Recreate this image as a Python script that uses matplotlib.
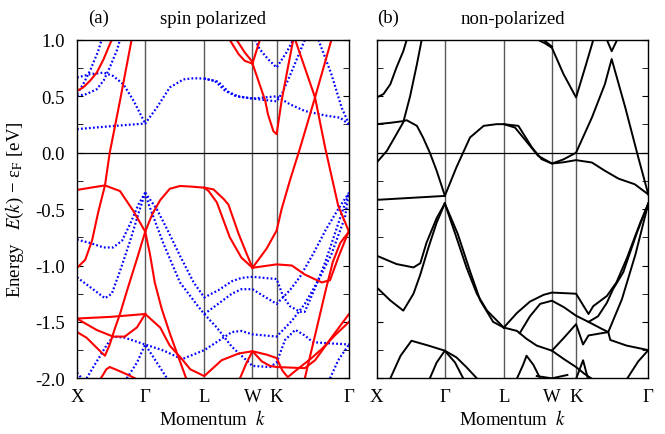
import matplotlib
matplotlib.use("Agg")
import matplotlib.pyplot as plt
from matplotlib.ticker import MultipleLocator
import numpy as np

# k-path X-G-L-W-K-G, distances in units of 2pi/a
kpoint_labels = ["X", "Γ", "L", "W", "K", "Γ"]
kpoint_pos = [0.0, 1.0, 1.866, 2.573, 2.927, 3.988]

# spin-polarized calculation, majority spin: (k, E - E_F)
spin_up = [
    [(0, -1.02), (0.12, -0.95), (0.22, -0.78), (0.31, -0.53), (0.41, -0.29), (0.48, 0.0), (0.63, 0.46), (0.80, 1.0)],
    [(0, -0.33), (0.2, -0.31), (0.41, -0.29), (0.63, -0.34), (0.83, -0.52), (1.0, -0.70)],
    [(0, -1.59), (0.14, -1.64), (0.29, -1.73), (0.41, -1.80), (0.48, -1.70), (0.56, -1.55), (0.63, -1.43),
     (0.75, -1.19), (0.88, -0.94), (1.0, -0.70)],
    [(1.0, -0.70), (1.10, -0.55), (1.22, -0.42), (1.36, -0.32), (1.51, -0.295), (1.66, -0.30), (1.866, -0.31)],
    [(1.866, -0.31), (1.93, -0.34), (2.05, -0.44), (2.24, -0.75), (2.41, -0.93), (2.573, -1.02)],
    [(1.866, -0.31), (2.0, -0.325), (2.15, -0.41), (2.22, -0.46), (2.37, -0.72), (2.49, -0.90), (2.573, -1.02)],
    [(2.573, -1.02), (2.78, -0.85), (2.927, -0.69), (3.00, -0.50), (3.12, -0.25), (3.27, 0.04), (3.49, 0.49), (3.73, 1.0)],
    [(3.20, 1.0), (3.49, 0.49), (3.64, 0.04), (3.83, -0.47), (3.988, -0.70)],
    [(2.573, -1.02), (2.927, -0.99), (3.15, -1.0), (3.34, -1.08), (3.59, -1.15), (3.71, -1.13), (3.83, -0.93), (3.988, -0.69)],
    [(3.34, -2.0), (3.49, -1.62), (3.65, -1.21), (3.75, -0.97), (3.86, -0.80), (3.988, -0.70)],
    [(2.24, 1.0), (2.37, 0.873), (2.46, 0.814), (2.573, 0.79)],
    [(2.34, 1.0), (2.46, 0.888), (2.56, 0.814), (2.573, 0.79)],
    [(2.573, 0.79), (2.66, 0.637), (2.76, 0.46), (2.80, 0.34), (2.88, 0.19), (2.927, 0.164), (3.00, 0.46), (3.10, 0.78), (3.17, 1.0)],
    [(2.573, 0.79), (2.68, 1.0)],
    [(0, 0.548), (0.09, 0.578), (0.19, 0.637), (0.29, 0.71), (0.39, 0.829), (0.48, 0.96), (0.51, 1.0)],
    [(0, -1.47), (0.5, -1.455), (1.0, -1.43)],
    [(0, -1.47), (0.14, -1.52), (0.29, -1.572), (0.53, -1.63), (0.70, -1.63), (0.88, -1.548), (1.0, -1.43)],
    [(1.0, -1.43), (1.22, -1.55), (1.36, -1.71), (1.54, -1.83), (1.66, -1.92), (1.866, -1.98), (2.12, -1.84),
     (2.37, -1.78), (2.573, -1.76), (2.78, -1.79), (2.927, -1.82), (3.01, -1.93), (3.09, -1.99), (3.21, -1.93),
     (3.42, -1.83), (3.59, -1.74), (3.78, -1.62), (3.988, -1.50)],
    [(1.0, -0.70), (1.07, -0.90), (1.14, -1.15), (1.24, -1.38), (1.36, -1.60), (1.48, -1.80), (1.60, -2.0)],
    [(0.35, -2.0), (0.43, -1.92), (0.48, -1.90), (0.60, -1.93), (0.75, -1.97), (0.85, -2.0)],
    [(2.39, -2.0), (2.48, -1.87), (2.573, -1.76), (2.71, -1.85), (2.83, -1.89), (2.927, -1.90), (3.34, -1.91),
     (3.49, -1.84), (3.73, -1.64), (3.988, -1.43)],
]

# minority spin
spin_down = [
    [(0, 0.209), (0.5, 0.235), (1.0, 0.259), (1.17, 0.40), (1.36, 0.578), (1.56, 0.65), (1.71, 0.66), (1.866, 0.657),
     (2.02, 0.637), (2.17, 0.55), (2.32, 0.504), (2.573, 0.48), (2.927, 0.50), (3.12, 0.43), (3.34, 0.37),
     (3.64, 0.33), (3.86, 0.31), (3.988, 0.25)],
    [(1.866, 0.657), (2.07, 0.63), (2.22, 0.54), (2.37, 0.497), (2.573, 0.48), (2.927, 0.455), (3.01, 0.53),
     (3.12, 0.68), (3.23, 0.84), (3.34, 1.0)],
    [(0, 0.666), (0.19, 0.696), (0.39, 0.71), (0.53, 0.68), (0.68, 0.607), (0.83, 0.46), (1.0, 0.259)],
    [(0, 0.504), (0.14, 0.52), (0.29, 0.563), (0.39, 0.64), (0.48, 0.755), (0.58, 0.90), (0.63, 1.0)],
    [(0, 0.52), (0.09, 0.607), (0.19, 0.725), (0.31, 0.90), (0.36, 1.0)],
    [(2.61, 1.0), (2.68, 0.917), (2.80, 0.83), (2.927, 0.755), (3.07, 0.888), (3.17, 1.0)],
    [(3.54, 1.0), (3.73, 0.696), (3.88, 0.40), (3.988, 0.253)],
    [(0, -0.77), (0.19, -0.80), (0.39, -0.84), (0.53, -0.84), (0.66, -0.78), (0.78, -0.63), (0.90, -0.46), (1.0, -0.355)],
    [(0, -1.105), (0.19, -1.19), (0.41, -1.29), (0.51, -1.25), (0.63, -1.05), (0.78, -0.78), (0.90, -0.54), (1.0, -0.355)],
    [(1.0, -0.355), (1.17, -0.50), (1.32, -0.677), (1.51, -0.914), (1.71, -1.15), (1.866, -1.283), (2.07, -1.22),
     (2.27, -1.14), (2.41, -1.11), (2.573, -1.10), (2.927, -1.12), (3.02, -1.27), (3.12, -1.36), (3.27, -1.41),
     (3.34, -1.41), (3.49, -1.20), (3.64, -0.97), (3.78, -0.72), (3.89, -0.52), (3.988, -0.355)],
    [(1.0, -0.355), (1.05, -0.456), (1.27, -0.81), (1.51, -1.15), (1.76, -1.35), (1.866, -1.43), (2.07, -1.34),
     (2.27, -1.25), (2.41, -1.21), (2.573, -1.21), (2.76, -1.28), (2.927, -1.34), (3.12, -1.22), (3.27, -1.10),
     (3.46, -0.90), (3.65, -0.68), (3.83, -0.50), (3.988, -0.355)],
    [(0.14, -2.0), (0.29, -1.85), (0.44, -1.70), (0.53, -1.63), (0.70, -1.64), (1.0, -1.70), (1.27, -1.754),
     (1.54, -1.83), (1.866, -1.75), (2.07, -1.67), (2.27, -1.59), (2.41, -1.58), (2.573, -1.61), (2.927, -1.63),
     (3.15, -1.49), (3.34, -1.34), (3.54, -1.13), (3.73, -0.90), (3.93, -0.57), (3.988, -0.355)],
    [(1.866, -1.43), (2.05, -1.55), (2.27, -1.72), (2.573, -1.89), (2.83, -1.90), (2.927, -1.86), (3.05, -1.66),
     (3.20, -1.57), (3.34, -1.62), (3.46, -1.68), (3.71, -1.69), (3.988, -1.70)],
    [(3.71, -2.0), (3.83, -1.84), (3.988, -1.70)],
    [(0.73, -2.0), (0.88, -1.86), (1.0, -1.70), (1.17, -1.86), (1.32, -2.0)],
    [(0, -1.95), (0.07, -2.0)],
]

# non-polarized calculation
non_polarized = [
    [(0, 0.49), (0.10, 0.52), (0.20, 0.607), (0.29, 0.755), (0.39, 0.90), (0.44, 1.0)],
    [(0, 0.253), (0.20, 0.265), (0.39, 0.28), (0.44, 0.288), (0.59, 0.238), (0.68, 0.135), (0.78, 0.0),
     (0.88, -0.16), (1.0, -0.38)],
    [(0, -0.087), (0.15, 0.017), (0.29, 0.164), (0.39, 0.27), (0.49, 0.50), (0.59, 0.784), (0.66, 1.0)],
    [(0, -0.418), (1.0, -0.383)],
    [(1.0, -0.383), (1.17, -0.13), (1.37, 0.135), (1.57, 0.238), (1.76, 0.253), (1.866, 0.253), (2.03, 0.223),
     (2.23, 0.076), (2.37, -0.028), (2.573, -0.096), (2.74, -0.085), (2.927, -0.066), (3.16, -0.087),
     (3.35, -0.16), (3.55, -0.23), (3.79, -0.28), (3.988, -0.37)],
    [(1.866, 0.253), (2.08, 0.238), (2.28, 0.046), (2.42, -0.057), (2.573, -0.096), (2.74, -0.06), (2.927, 0.0),
     (3.16, 0.312), (3.35, 0.607), (3.45, 0.83), (3.65, 0.40), (3.84, -0.04), (3.988, -0.37)],
    [(3.38, 1.0), (3.45, 0.90), (3.53, 1.0)],
    [(2.37, 1.0), (2.47, 0.97), (2.573, 0.93), (2.74, 0.70), (2.927, 0.49), (3.06, 0.755), (3.18, 1.0)],
    [(2.45, 1.0), (2.573, 0.94)],
    [(0, -0.913), (0.29, -0.987), (0.54, -1.017), (0.64, -0.98), (0.73, -0.80), (0.88, -0.58), (1.0, -0.45)],
    [(0, -1.194), (0.20, -1.31), (0.39, -1.40), (0.54, -1.25), (0.64, -1.08), (0.76, -0.84), (0.88, -0.62), (1.0, -0.45)],
    [(1.0, -0.45), (1.17, -0.75), (1.32, -1.02), (1.47, -1.25), (1.62, -1.40), (1.866, -1.55)],
    [(1.0, -0.45), (1.19, -0.72), (1.37, -1.05), (1.52, -1.31), (1.71, -1.50), (1.866, -1.55)],
    [(1.866, -1.55), (2.06, -1.42), (2.25, -1.32), (2.45, -1.26), (2.573, -1.24), (2.927, -1.25), (3.11, -1.43),
     (3.18, -1.36), (3.38, -1.27), (3.52, -1.15), (3.67, -0.94), (3.87, -0.62), (3.988, -0.45)],
    [(1.866, -1.55), (2.06, -1.58), (2.20, -1.65), (2.35, -1.71), (2.573, -1.755), (2.75, -1.64), (2.927, -1.52),
     (3.03, -1.70), (3.11, -1.62), (3.40, -1.59), (3.43, -1.66), (3.67, -1.71), (3.988, -1.75)],
    [(2.10, -1.60), (2.25, -1.45), (2.40, -1.34), (2.573, -1.312), (2.75, -1.37), (2.927, -1.445), (3.11, -1.50),
     (3.25, -1.45), (3.38, -1.33), (3.47, -1.21), (3.62, -1.06), (3.82, -0.71), (3.988, -0.45)],
    [(3.11, -1.50), (3.30, -1.56), (3.40, -1.59), (3.60, -1.30), (3.80, -0.90), (3.988, -0.45)],
    [(2.573, -1.755), (2.75, -1.83), (2.927, -1.90), (3.05, -1.96), (3.15, -2.0)],
    [(0.20, -2.0), (0.35, -1.80), (0.51, -1.667), (0.76, -1.71), (1.0, -1.755), (1.17, -1.814), (1.32, -1.903), (1.47, -2.0)],
    [(0.78, -2.0), (0.88, -1.86), (1.0, -1.755), (1.15, -1.86), (1.27, -2.0)],
    [(2.06, -2.0), (2.15, -1.88), (2.20, -1.80), (2.30, -1.88), (2.40, -2.0)],
    [(2.35, -1.98), (2.573, -2.0), (2.80, -1.97)],
    [(2.93, -2.0), (3.03, -1.84), (3.10, -2.0)],
    [(3.68, -2.0), (3.84, -1.85), (3.988, -1.75)],
]

plt.rcParams["font.family"] = "Liberation Serif"
plt.rcParams["mathtext.fontset"] = "stix"
plt.rcParams["axes.unicode_minus"] = False


def draw_bands(ax, bands, **style):
    for band in bands:
        k, e = np.array(band).T
        ax.plot(k, e, solid_joinstyle="round", **style)


def style_axes(ax, tag, title, show_ylabels):
    ax.set_xlim(kpoint_pos[0], kpoint_pos[-1])
    ax.set_ylim(-2.0, 1.0)
    for kp in kpoint_pos[1:-1]:
        ax.axvline(kp, color="0.35", lw=1.0, zorder=0)
    ax.axhline(0.0, color="black", lw=0.9, zorder=0)

    ax.set_xticks(kpoint_pos)
    ax.set_xticklabels(kpoint_labels)
    ax.tick_params(axis="x", length=0, pad=7, labelsize=13.5)
    ax.yaxis.set_major_locator(MultipleLocator(0.5))
    ax.yaxis.set_minor_locator(MultipleLocator(0.25))
    ax.tick_params(axis="y", which="both", direction="in", left=True, right=True,
                   length=4, labelsize=13.5, pad=9)
    if show_ylabels:
        ax.set_yticklabels([f"{v:.1f}" for v in ax.get_yticks()])
    else:
        ax.tick_params(axis="y", labelleft=False)

    ax.set_xlabel(r"Momentum  $k$", fontsize=13.5, labelpad=3)
    ax.set_title(title, fontsize=13.5, pad=12)
    ax.text(0.04 if show_ylabels else 0.0, 1.04, tag, transform=ax.transAxes,
            fontsize=13.5, ha="left", va="bottom")
    for sp in ax.spines.values():
        sp.set_linewidth(1.0)


fig = plt.figure(figsize=(6.65, 4.35), dpi=100)
ax_a = fig.add_axes([0.1158, 0.128, 0.409, 0.778])
ax_b = fig.add_axes([0.5665, 0.128, 0.4084, 0.778])

draw_bands(ax_a, spin_down, color="#0000ff", lw=1.6, ls=(0, (0.8, 1.0)))
draw_bands(ax_a, spin_up, color="#ff0000", lw=1.5)
draw_bands(ax_b, non_polarized, color="black", lw=1.4)

style_axes(ax_a, "(a)", "spin polarized", True)
style_axes(ax_b, "(b)", "non-polarized", False)

ax_a.set_ylabel(r"Energy   $E$($k$) − ε$_{\mathrm{F}}$ [eV]", fontsize=13.5, labelpad=6)

fig.savefig("out.png", dpi=100)
